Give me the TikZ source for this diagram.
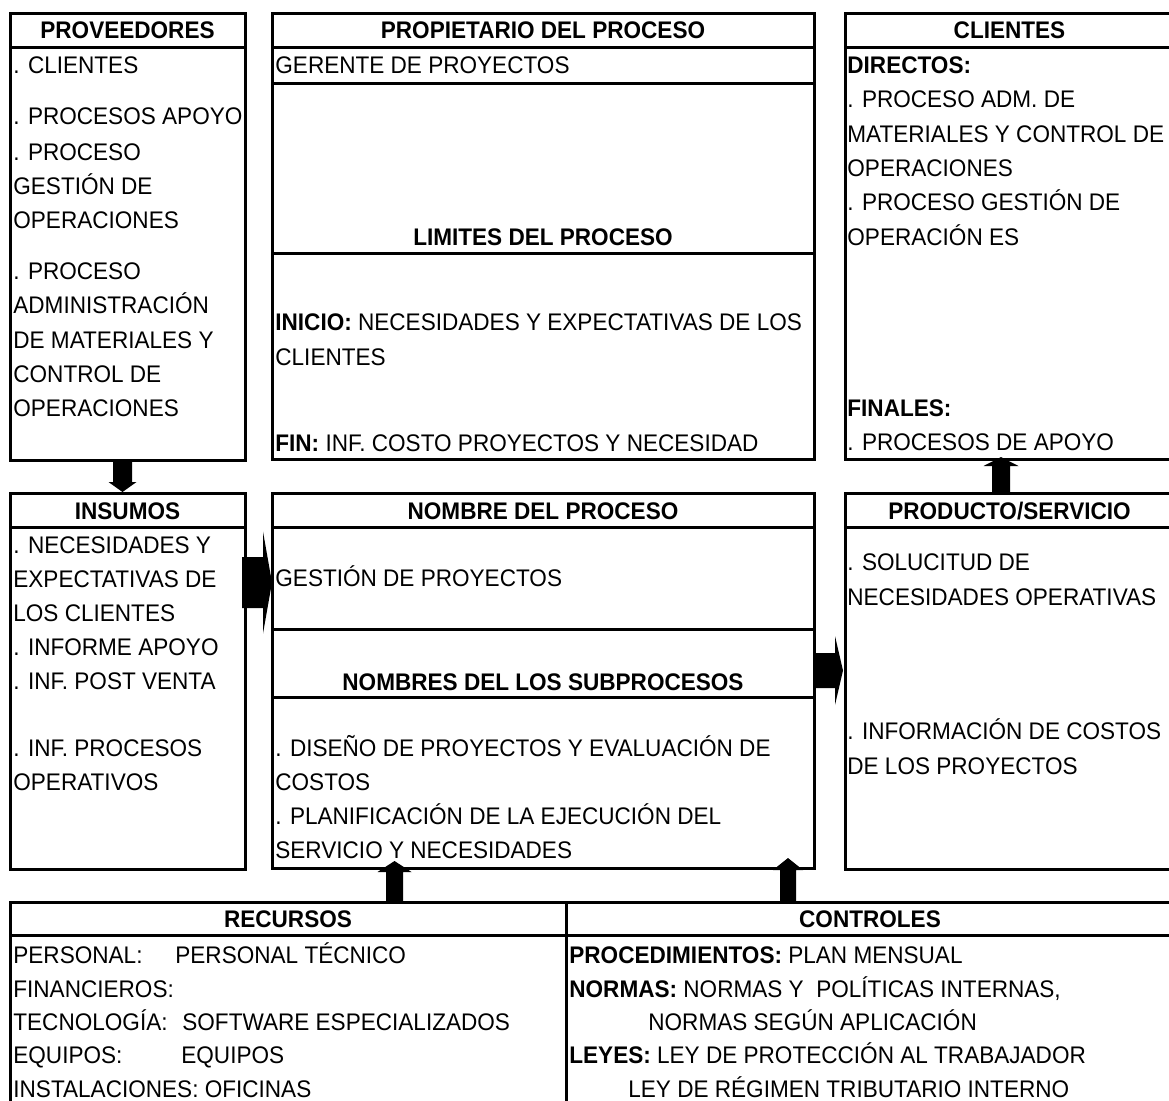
\documentclass[tikz,border=0pt]{standalone}
\usepackage{fontspec}
\setmainfont[FakeStretch=0.94]{Liberation Sans}
\usetikzlibrary{calc}
\newcommand\mytx[4]{\node[txt] (#1) at (#2,#3) {#4};}
\newcommand\myhd[4]{\node[hd] (#1) at (#2,#3) {#4};}
\newcommand\varr[6]{\fill (#1-#4,#2) -- (#1-#4,#6) -- (#1-#5,#6) -- (#1,#3) -- (#1+#5,#6) -- (#1+#4,#6) -- (#1+#4,#2) -- cycle;}
\newcommand\harr[6]{\fill (#2,#1-#4) -- (#6,#1-#4) -- (#6,#1-#5) -- (#3,#1) -- (#6,#1+#5) -- (#6,#1+#4) -- (#2,#1+#4) -- cycle;}
\begin{document}
\begin{tikzpicture}[x=0.5pt,y=-0.5pt,
  box/.style={draw, line width=1.5pt, inner sep=0pt, outer sep=0pt, anchor=north west},
  sep/.style={line width=1.5pt},
  txt/.style={anchor=base west, inner sep=0pt, font=\fontsize{12}{14}\selectfont},
  hd/.style={anchor=base, inner sep=0pt, font=\fontsize{12}{14}\selectfont\bfseries}]
\useasboundingbox (0,0) rectangle (1169,1100);
\clip (0,0) rectangle (1169,1100);
% boxes
\node[box, minimum width=117.5pt, minimum height=223.5pt] (prov) at (10,13) {};
\node[box, minimum width=271pt, minimum height=223pt] (prop) at (272,13) {};
\node[box, minimum width=164.5pt, minimum height=223pt] (cli) at (845,13) {};
\node[box, minimum width=117.5pt, minimum height=188pt] (ins) at (10,493) {};
\node[box, minimum width=271pt, minimum height=187.5pt] (nom) at (272,493) {};
\node[box, minimum width=164.5pt, minimum height=188pt] (prod) at (845,493) {};
\node[box, minimum width=278pt, minimum height=106.5pt] (rec) at (10,902) {};
\node[box, minimum width=304pt, minimum height=106.5pt] (con) at (566,902) {};
% separator lines
\draw[sep] ($(prov.north west)+(0,34)$) -- ($(prov.north east)+(0,34)$);
\draw[sep] ($(prop.north west)+(0,34)$) -- ($(prop.north east)+(0,34)$);
\draw[sep] ($(prop.north west)+(0,70)$) -- ($(prop.north east)+(0,70)$);
\draw[sep] ($(prop.north west)+(0,240)$) -- ($(prop.north east)+(0,240)$);
\draw[sep] ($(cli.north west)+(0,34)$) -- ($(cli.north east)+(0,34)$);
\draw[sep] ($(ins.north west)+(0,34)$) -- ($(ins.north east)+(0,34)$);
\draw[sep] ($(nom.north west)+(0,34)$) -- ($(nom.north east)+(0,34)$);
\draw[sep] ($(nom.north west)+(0,136)$) -- ($(nom.north east)+(0,136)$);
\draw[sep] ($(nom.north west)+(0,204)$) -- ($(nom.north east)+(0,204)$);
\draw[sep] ($(prod.north west)+(0,34)$) -- ($(prod.north east)+(0,34)$);
\draw[sep] ($(rec.north west)+(0,33)$) -- ($(rec.north east)+(0,33)$);
\draw[sep] ($(con.north west)+(0,33)$) -- ($(con.north east)+(0,33)$);
% arrows
\varr{122.5}{459}{492}{9.5}{14}{482}
\varr{1001}{494}{457}{9}{17.5}{466}
\varr{394.5}{903}{861}{8.5}{17}{872}
\varr{788}{903}{858}{8}{15}{870}
\harr{582.5}{242}{272}{25.5}{51}{263}
\harr{670.5}{813}{843}{17.5}{34.5}{835}
% PROVEEDORES
\myhd{hprov}{127.5}{38.5}{PROVEEDORES}
\mytx{p1}{13}{73}{. CLIENTES}
\mytx{p2}{13}{124.5}{. PROCESOS APOYO}
\mytx{p3}{13}{160}{. PROCESO}
\mytx{p4}{13}{194.5}{GESTIÓN DE}
\mytx{p5}{13}{228}{OPERACIONES}
\mytx{p6}{13}{279}{. PROCESO}
\mytx{p7}{13}{313.5}{ADMINISTRACIÓN}
\mytx{p8}{13}{348.5}{DE MATERIALES Y}
\mytx{p9}{13}{382.5}{CONTROL DE}
\mytx{p10}{13}{416.5}{OPERACIONES}
% PROPIETARIO
\myhd{hprop}{543}{38.5}{PROPIETARIO DEL PROCESO}
\mytx{q1}{275}{73.5}{GERENTE DE PROYECTOS}
\myhd{hlim}{543}{245.5}{LIMITES DEL PROCESO}
\mytx{q2}{275}{330.5}{\textbf{INICIO:} NECESIDADES Y EXPECTATIVAS DE LOS}
\mytx{q3}{275}{365.5}{CLIENTES}
\mytx{q4}{275}{451}{\textbf{FIN:} INF. COSTO PROYECTOS Y NECESIDAD}
% CLIENTES
\myhd{hcli}{1009.5}{38.5}{CLIENTES}
\mytx{c1}{847}{73}{\textbf{DIRECTOS:}}
\mytx{c2}{847}{107}{. PROCESO ADM. DE}
\mytx{c3}{847}{142}{MATERIALES Y CONTROL DE}
\mytx{c4}{847}{176.5}{OPERACIONES}
\mytx{c5}{847}{210.5}{. PROCESO GESTIÓN DE}
\mytx{c6}{847}{245}{OPERACIÓN ES}
\mytx{c7}{847}{416}{\textbf{FINALES:}}
\mytx{c8}{847}{450}{. PROCESOS DE APOYO}
% INSUMOS
\myhd{hins}{127.5}{519}{INSUMOS}
\mytx{i1}{13}{553.5}{. NECESIDADES Y}
\mytx{i2}{13}{587.5}{EXPECTATIVAS DE}
\mytx{i3}{13}{621.5}{LOS CLIENTES}
\mytx{i4}{13}{655.5}{. INFORME APOYO}
\mytx{i5}{13}{689.5}{. INF. POST VENTA}
\mytx{i6}{13}{756.5}{. INF. PROCESOS}
\mytx{i7}{13}{790.5}{OPERATIVOS}
% NOMBRE
\myhd{hnom}{543}{519}{NOMBRE DEL PROCESO}
\mytx{n1}{275}{586.5}{GESTIÓN DE PROYECTOS}
\myhd{hsub}{543}{690}{NOMBRES DEL LOS SUBPROCESOS}
\mytx{n2}{275}{756.5}{. DISEÑO DE PROYECTOS Y EVALUACIÓN DE}
\mytx{n3}{275}{790.5}{COSTOS}
\mytx{n4}{275}{824.5}{. PLANIFICACIÓN DE LA EJECUCIÓN DEL}
\mytx{n5}{275}{858.5}{SERVICIO Y NECESIDADES}
% PRODUCTO
\myhd{hprod}{1009.5}{519.5}{PRODUCTO/SERVICIO}
\mytx{s1}{847}{570}{. SOLUCITUD DE}
\mytx{s2}{847}{605}{NECESIDADES OPERATIVAS}
\mytx{s3}{847}{739.5}{. INFORMACIÓN DE COSTOS}
\mytx{s4}{847}{774.5}{DE LOS PROYECTOS}
% RECURSOS
\myhd{hrec}{288}{927.5}{RECURSOS}
\mytx{r1}{13}{963.5}{PERSONAL:}
\mytx{r1b}{175}{963.5}{PERSONAL TÉCNICO}
\mytx{r2}{13}{997}{FINANCIEROS:}
\mytx{r3}{13}{1030}{TECNOLOGÍA:}
\mytx{r3b}{182}{1030}{SOFTWARE ESPECIALIZADOS}
\mytx{r4}{13}{1063.5}{EQUIPOS:}
\mytx{r4b}{181}{1063.5}{EQUIPOS}
\mytx{r5}{13}{1097}{INSTALACIONES: OFICINAS}
% CONTROLES
\myhd{hcon}{870}{927.5}{CONTROLES}
\mytx{k1}{569}{963.5}{\textbf{PROCEDIMIENTOS:} PLAN MENSUAL}
\mytx{k2}{569}{997}{\textbf{NORMAS:} NORMAS Y\ \ POLÍTICAS INTERNAS,}
\mytx{k3}{648}{1030}{NORMAS SEGÚN APLICACIÓN}
\mytx{k4}{569}{1063.5}{\textbf{LEYES:} LEY DE PROTECCIÓN AL TRABAJADOR}
\mytx{k5}{628}{1097}{LEY DE RÉGIMEN TRIBUTARIO INTERNO}
\end{tikzpicture}
\end{document}
